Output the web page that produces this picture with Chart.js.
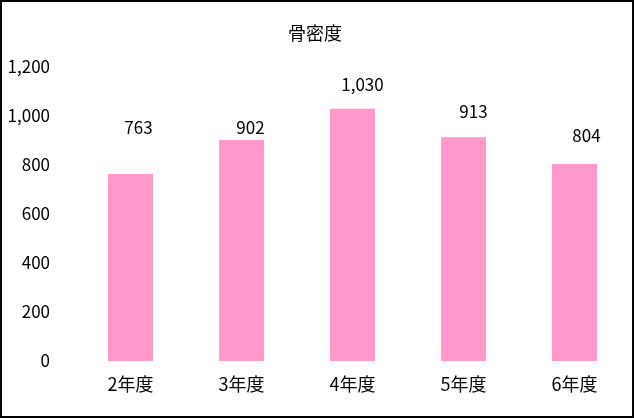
<!DOCTYPE html>
<html lang="ja">
<head>
    <meta charset="UTF-8">
    <title>骨密度</title>
    <script src="https://cdn.jsdelivr.net/npm/chart.js"></script>
</head>
<style>
    body { margin: 0; background: #fff; }
    .grafico_sty { width: 635px; height: 418px; }
</style>
<body>
    <div class="grafico_sty">
        <canvas id="grafico_1"></canvas>
    </div>

    <script>
        const titulo = '骨密度';
        const categorias = ['2年度', '3年度', '4年度', '5年度', '6年度'];
        const valores = [763, 902, 1030, 913, 804];
        const ticksY = [0, 200, 400, 600, 800, 1000, 1200];

        const fonte = "'Noto Sans CJK JP', 'DejaVu Sans', sans-serif";

        // labels sit a bit off the bar tops, like the original
        const deslocRotulo = [[8, 47], [9, 12], [10, 24], [10, 26], [12, 28]];

        const moldura = {
            id: 'moldura',
            beforeDraw(chart) {
                const c = chart.ctx;
                c.save();
                c.fillStyle = '#fff';
                c.fillRect(0, 0, chart.width, chart.height);
                c.restore();
            },
            afterDraw(chart) {
                const c = chart.ctx;
                c.save();
                c.strokeStyle = '#000';
                c.lineWidth = 2;
                c.strokeRect(1, 1, chart.width - 3, chart.height - 2);
                c.restore();
            }
        };

        const rotulos = {
            id: 'rotulos',
            afterDatasetsDraw(chart) {
                const c = chart.ctx;
                const meta = chart.getDatasetMeta(0);
                c.save();
                c.font = '17px ' + fonte;
                c.fillStyle = '#000';
                c.textAlign = 'center';
                c.textBaseline = 'middle';
                meta.data.forEach((bar, i) => {
                    const d = deslocRotulo[i];
                    c.fillText(valores[i].toLocaleString('en-US'), bar.x + d[0], bar.y - d[1]);
                });
                c.restore();
            }
        };

        const ctx = document.getElementById('grafico_1');

        const grafico_1 = new Chart(ctx, {
            type: 'bar',
            data: {
                labels: categorias,
                datasets: [{
                    data: valores,
                    backgroundColor: '#FF99CC',
                    borderWidth: 0,
                    barPercentage: 0.405,
                    categoryPercentage: 1
                }]
            },
            options: {
                responsive: true,
                maintainAspectRatio: false,
                animation: false,
                layout: { padding: { left: 0, right: 5, top: 0, bottom: 0 } },
                plugins: {
                    legend: { display: false },
                    tooltip: { enabled: false },
                    title: {
                        display: true,
                        text: titulo,
                        color: '#000',
                        font: { family: fonte, size: 18, weight: 'normal', lineHeight: 1 },
                        padding: { top: 24, bottom: 25 }
                    }
                },
                scales: {
                    x: {
                        grid: { display: false, drawTicks: false },
                        border: { display: false },
                        ticks: {
                            color: '#000',
                            padding: 12,
                            font: { family: fonte, size: 18 }
                        },
                        afterFit(s) { s.height = 57; }
                    },
                    y: {
                        min: 0,
                        max: 1200,
                        grid: { display: false, drawTicks: false },
                        border: { display: false },
                        afterBuildTicks(s) { s.ticks = ticksY.map(v => ({ value: v })); },
                        ticks: {
                            color: '#000',
                            padding: 25,
                            font: { family: fonte, size: 17 },
                            callback: v => v.toLocaleString('en-US')
                        },
                        afterFit(s) { s.width = 75; }
                    }
                }
            },
            plugins: [moldura, rotulos]
        });
    </script>
</body>
</html>
